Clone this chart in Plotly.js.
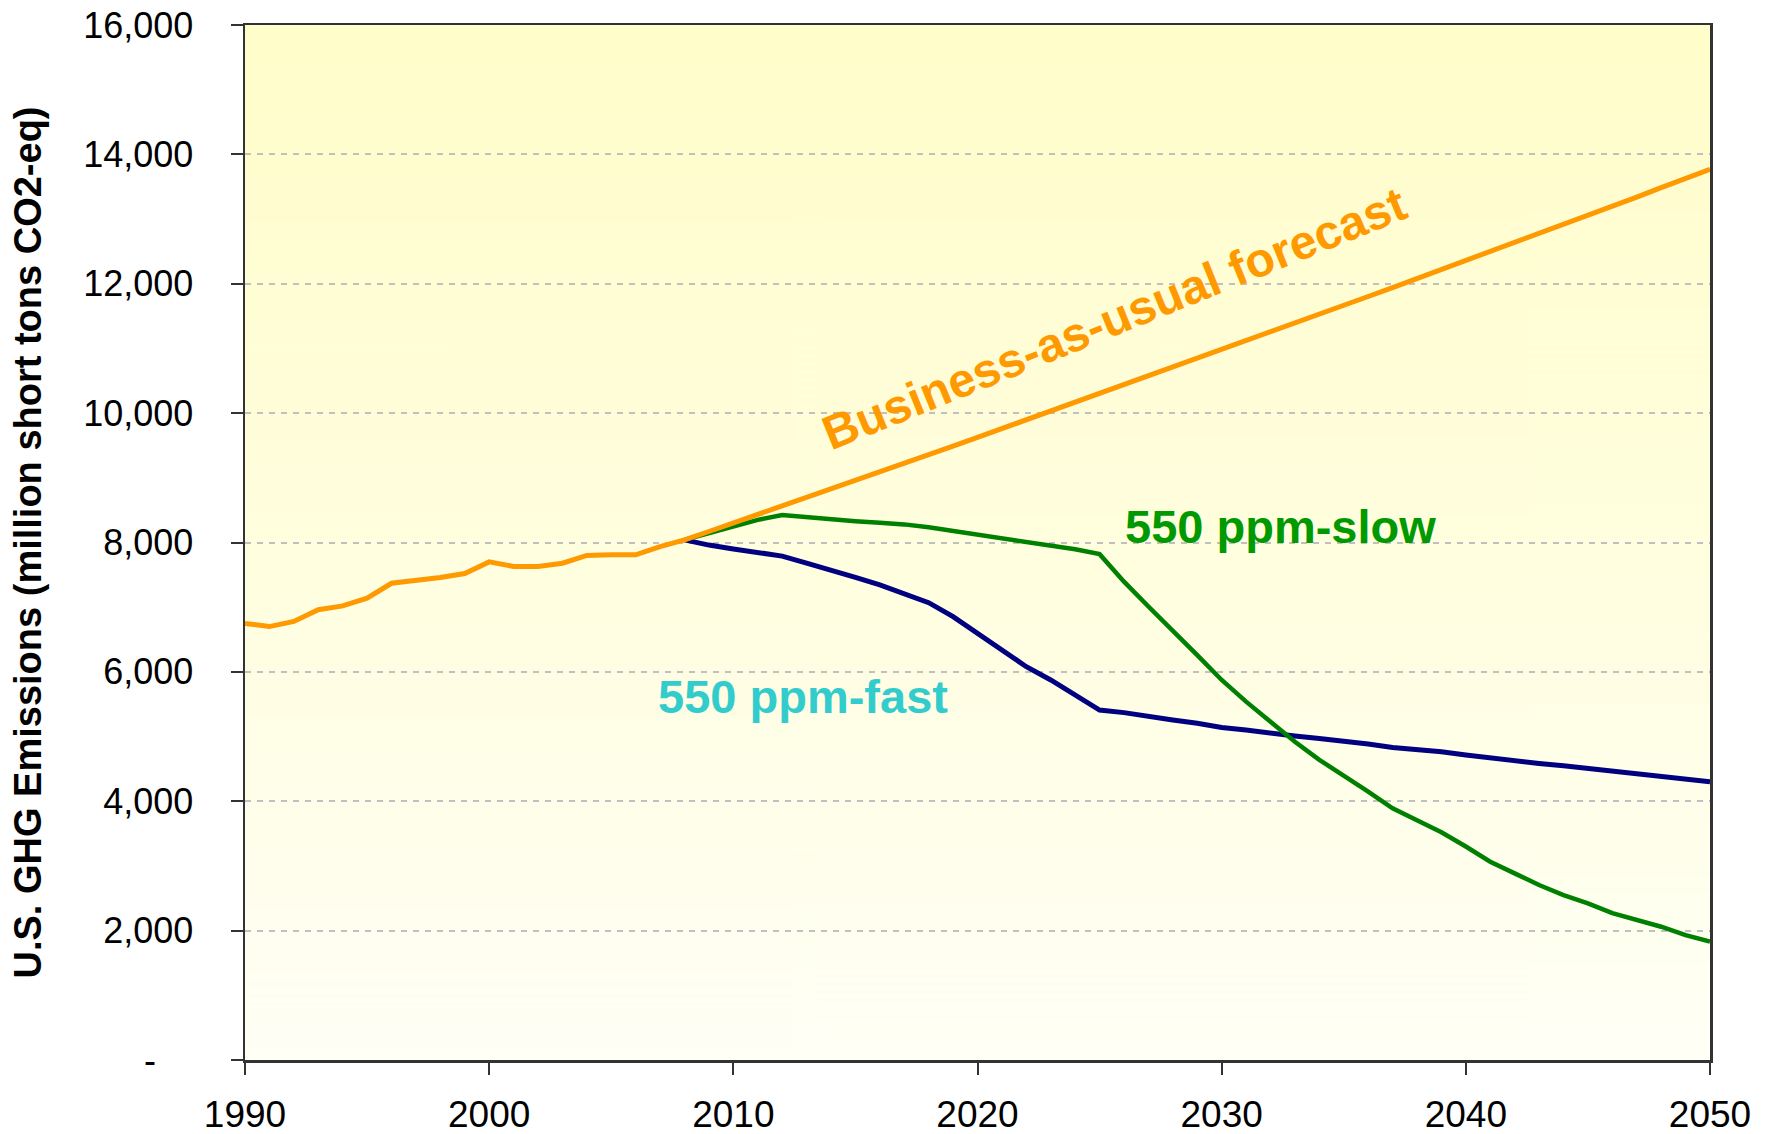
<!DOCTYPE html>
<html>
<head>
<meta charset="utf-8">
<script src="https://cdn.plot.ly/plotly-3.0.1.min.js"></script>
<style>
  html, body { margin: 0; padding: 0; background: #ffffff; }
  #chart { width: 1770px; height: 1134px; }
</style>
</head>
<body>
<div id="chart"></div>
<script>
// ---- Data ----
const bauYears = [1990,1991,1992,1993,1994,1995,1996,1997,1998,1999,
                  2000,2001,2002,2003,2004,2005,2006,2007,2008,2009,
                  2010,2011,2012,2013,2014,2015,2016,2017,2018,2019,
                  2020,2021,2022,2023,2024,2025,2026,2027,2028,2029,
                  2030,2031,2032,2033,2034,2035,2036,2037,2038,2039,
                  2040,2041,2042,2043,2044,2045,2046,2047,2048,2049,2050];
const bauValues = [6750,6700,6780,6960,7020,7140,7370,7410,7460,7520,
                   7700,7630,7630,7680,7800,7810,7810,7935,8040,8170,
                   8300,8430,8560,8690,8820,8950,9085,9220,9355,9490,
                   9625,9760,9895,10030,10165,10300,10436,10572,10708,10844,
                   10980,11117,11254,11391,11528,11665,11803,11941,12079,12217,
                   12355,12494,12633,12772,12911,13050,13195,13340,13485,13630,13770];

const scenYears = [2008,2009,2010,2011,2012,2013,2014,2015,2016,2017,
                   2018,2019,2020,2021,2022,2023,2024,2025,2026,2027,
                   2028,2029,2030,2031,2032,2033,2034,2035,2036,2037,
                   2038,2039,2040,2041,2042,2043,2044,2045,2046,2047,
                   2048,2049,2050];
const slowValues = [8040,8140,8245,8350,8425,8390,8360,8330,8305,8280,
                    8235,8180,8115,8065,8005,7945,7895,7820,7395,7010,
                    6645,6260,5875,5540,5230,4920,4640,4405,4150,3890,
                    3700,3520,3300,3065,2885,2705,2550,2420,2270,2165,
                    2060,1930,1830];
const fastValues = [8040,7960,7900,7850,7790,7680,7575,7460,7345,7215,
                    7070,6855,6595,6340,6080,5875,5645,5410,5370,5305,
                    5255,5205,5140,5100,5050,5010,4970,4930,4885,4830,
                    4805,4765,4715,4670,4615,4585,4550,4510,4455,4420,
                    4390,4340,4300];

const seriesNames = ["550 ppm-fast", "550 ppm-slow", "Business-as-usual forecast"];
const xTickVals = [1990,2000,2010,2020,2030,2040,2050];
const xTickText = ["1990","2000","2010","2020","2030","2040","2050"];
const yTickVals = [0,2000,4000,6000,8000,10000,12000,14000,16000];
const yTickText = ["-\u00A0\u00A0\u00A0\u2009","2,000","4,000","6,000","8,000","10,000","12,000","14,000","16,000"];
const yAxisTitle = "U.S. GHG Emissions (million short tons CO2-eq)";

// ---- Background gradient for the plot area ----
function gradientURL() {
  const c = document.createElement('canvas');
  c.width = 4; c.height = 512;
  const g = c.getContext('2d');
  const grd = g.createLinearGradient(0, 0, 0, 512);
  grd.addColorStop(0, '#FFFDC9');
  grd.addColorStop(0.5, '#FFFEDE');
  grd.addColorStop(1, '#FFFFF6');
  g.fillStyle = grd;
  g.fillRect(0, 0, 4, 512);
  return c.toDataURL('image/png');
}

const FONT = '"Liberation Sans", Arial, sans-serif';

const traces = [
  { x: scenYears, y: fastValues, name: seriesNames[0], mode: 'lines',
    line: { color: '#000080', width: 5 } },
  { x: scenYears, y: slowValues, name: seriesNames[1], mode: 'lines',
    line: { color: '#008000', width: 4.5 } },
  { x: bauYears, y: bauValues, name: seriesNames[2], mode: 'lines',
    line: { color: '#FF9900', width: 5 } }
];

const layout = {
  width: 1770, height: 1134,
  margin: { l: 245, r: 60, t: 25, b: 74, pad: 0 },
  paper_bgcolor: '#FFFFFF',
  plot_bgcolor: 'rgba(0,0,0,0)',
  showlegend: false,
  font: { family: FONT, color: '#000000', size: 36 },
  images: [{
    source: gradientURL(), xref: 'paper', yref: 'paper',
    x: 0, y: 1, sizex: 1, sizey: 1, sizing: 'stretch',
    xanchor: 'left', yanchor: 'top', layer: 'below'
  }],
  xaxis: {
    range: [1990, 2050], tickmode: 'array', tickvals: xTickVals, ticktext: xTickText,
    ticks: 'outside', ticklen: 12, tickwidth: 2, tickcolor: '#333333',
    showline: true, linecolor: '#333333', linewidth: 2.5, mirror: true,
    showgrid: false, zeroline: false,
    tickfont: { family: FONT, size: 37, color: '#000000' },
    ticklabelstandoff: 8
  },
  yaxis: {
    range: [0, 16000], tickmode: 'array', tickvals: yTickVals, ticktext: yTickText,
    ticks: 'outside', ticklen: 12, tickwidth: 2, tickcolor: '#333333',
    showline: true, linecolor: '#333333', linewidth: 2.5, mirror: true,
    showgrid: true, gridcolor: '#C0C0C0', gridwidth: 2, griddash: '6px,6px',
    zeroline: false,
    tickfont: { family: FONT, size: 36, color: '#000000' },
    ticklabelstandoff: 30,
    title: { text: yAxisTitle, standoff: 30,
             font: { family: FONT, size: 38, color: '#000000', weight: 'bold' } }
  },
  annotations: [
    { x: 2025.6, y: 11470, xref: 'x', yref: 'y', text: '<b>Business-as-usual forecast</b>',
      showarrow: false, textangle: -22, xanchor: 'center', yanchor: 'middle',
      font: { family: FONT, size: 48, color: '#FF9900' } },
    { x: 2032.4, y: 8240, xref: 'x', yref: 'y', text: '<b>550 ppm-slow</b>',
      showarrow: false, xanchor: 'center', yanchor: 'middle',
      font: { family: FONT, size: 47, color: '#009900' } },
    { x: 2012.85, y: 5627, xref: 'x', yref: 'y', text: '<b>550 ppm-fast</b>',
      showarrow: false, xanchor: 'center', yanchor: 'middle',
      font: { family: FONT, size: 47, color: '#33CCCC' } }
  ]
};

Plotly.newPlot('chart', traces, layout, { displayModeBar: false, staticPlot: true });
</script>
</body>
</html>
